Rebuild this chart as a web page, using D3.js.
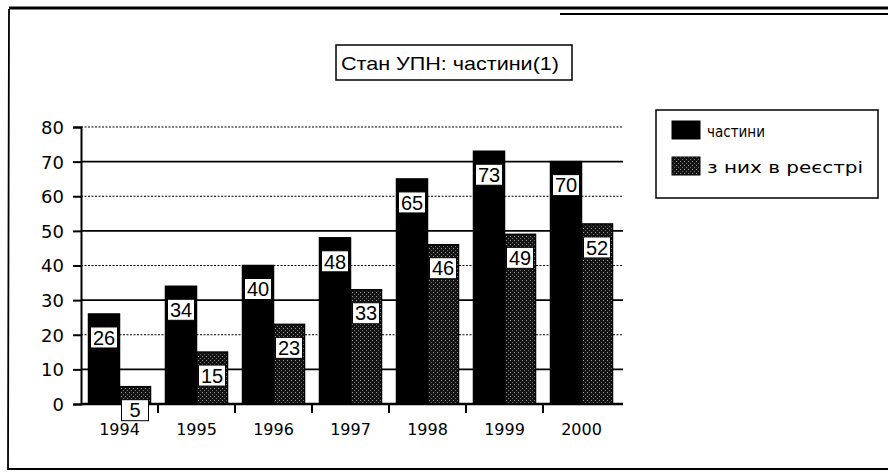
<!DOCTYPE html>
<html>
<head>
<meta charset="utf-8">
<script src="https://cdn.jsdelivr.net/npm/d3@7"></script>
<style>
  html, body { margin: 0; padding: 0; background: #fff; }
  svg { display: block; }
</style>
</head>
<body>
<svg id="chart" width="888" height="475"></svg>
<script>
// Стан УПН: частини — number per year, and how many of them are registered
const years = ["1994", "1995", "1996", "1997", "1998", "1999", "2000"];
const seriesNames = ["частини", "з них в реєстрі"];
const chastyny = [26, 34, 40, 48, 65, 73, 70];
const vReiestri = [5, 15, 23, 33, 46, 49, 52];
const yTicks = [0, 10, 20, 30, 40, 50, 60, 70, 80];
const titleText = "Стан УПН: частини(1)";

const svg = d3.select("#chart");

// speckled dark fill for the second series
const defs = svg.append("defs");
const pat = defs.append("pattern")
  .attr("id", "speckle").attr("patternUnits", "userSpaceOnUse")
  .attr("width", 4).attr("height", 4);
pat.append("rect").attr("width", 4).attr("height", 4).attr("fill", "#141414");
pat.append("rect").attr("x", 0).attr("y", 0).attr("width", 1).attr("height", 1).attr("fill", "#9a9a9a");
pat.append("rect").attr("x", 2).attr("y", 2).attr("width", 1).attr("height", 1).attr("fill", "#6e6e6e");

// frame: left and bottom edges, heavy top rule
const frame = svg.append("g").attr("stroke", "#000").attr("fill", "none");
frame.append("path").attr("d", "M9,9 L8,469 L888,469").attr("stroke-width", 1.8);
frame.append("line").attr("x1", 9).attr("x2", 888).attr("y1", 8).attr("y2", 8).attr("stroke-width", 3);
frame.append("line").attr("x1", 560).attr("x2", 888).attr("y1", 14).attr("y2", 14).attr("stroke-width", 2);

// title box
const tg = svg.append("g");
tg.append("rect").attr("x", 336).attr("y", 45).attr("width", 236).attr("height", 35)
  .attr("fill", "#fff").attr("stroke", "#000").attr("stroke-width", 1.5);
tg.append("text").attr("x", 341).attr("y", 70)
  .attr("font-family", "Liberation Sans, Arial, sans-serif").attr("font-size", 19)
  .attr("textLength", 218).attr("lengthAdjust", "spacingAndGlyphs")
  .text(titleText);

// scales
const plot = { left: 81, right: 620, top: 127, bottom: 404 };
const y = d3.scaleLinear().domain([0, 80]).range([plot.bottom, plot.top]);
const x0 = d3.scaleBand().domain(years).range([plot.left, plot.right]);
const x1 = d3.scaleBand().domain(seriesNames).range([7.5, x0.bandwidth() - 7.5]);

// gridlines: solid at odd tens, dotted at even tens
svg.append("g").selectAll("line").data(yTicks.filter(d => d > 0)).join("line")
  .attr("x1", plot.left).attr("x2", plot.right + 3)
  .attr("y1", d => y(d)).attr("y2", d => y(d))
  .attr("stroke", "#000")
  .attr("stroke-width", d => (d / 10) % 2 ? 1.6 : 1.2)
  .attr("stroke-dasharray", d => (d / 10) % 2 ? null : "2,1.5");

// y axis
const yAxis = svg.append("g").attr("transform", `translate(${plot.left},0)`)
  .call(d3.axisLeft(y).tickValues(yTicks).tickSize(8).tickPadding(9));
yAxis.select(".domain").attr("stroke-width", 2);
yAxis.selectAll(".tick line").attr("stroke-width", 2);
yAxis.selectAll("text").attr("font-family", "DejaVu Sans, sans-serif")
  .attr("font-size", 18).attr("fill", "#000").attr("dy", "0.36em");

// x axis with ticks at group boundaries
const xAxis = svg.append("g").attr("transform", `translate(0,${plot.bottom})`);
xAxis.append("line").attr("x1", plot.left).attr("x2", plot.right + 3)
  .attr("stroke", "#000").attr("stroke-width", 2.5);
xAxis.selectAll("line.tk").data(years.slice(1)).join("line").attr("class", "tk")
  .attr("x1", d => x0(d)).attr("x2", d => x0(d)).attr("y1", 0).attr("y2", 9)
  .attr("stroke", "#000").attr("stroke-width", 2);
xAxis.selectAll("text").data(years).join("text")
  .attr("x", d => x0(d) + x0.bandwidth() / 2).attr("y", 31)
  .attr("text-anchor", "middle")
  .attr("font-family", "DejaVu Sans, sans-serif").attr("font-size", 16)
  .text(d => d);

// bars
const rows = years.map((yr, i) => ({ year: yr, vals: [chastyny[i], vReiestri[i]] }));
const groups = svg.append("g").selectAll("g").data(rows).join("g")
  .attr("transform", d => `translate(${x0(d.year)},0)`);

const bars = groups.selectAll("g.bar")
  .data(d => d.vals.map((v, k) => ({ key: seriesNames[k], k, v })))
  .join("g").attr("class", "bar");

bars.append("rect")
  .attr("x", d => x1(d.key)).attr("width", x1.bandwidth())
  .attr("y", d => y(d.v)).attr("height", d => y(0) - y(d.v))
  .attr("fill", d => d.k === 0 ? "#000" : "url(#speckle)")
  .attr("stroke", "#000").attr("stroke-width", 1.5);

// value labels: white boxes set a little below each bar's top
const bw = 27, bh = 21;
bars.append("rect")
  .attr("x", d => x1(d.key) + (x1.bandwidth() - bw) / 2)
  .attr("y", d => y(d.v) + 13)
  .attr("width", bw).attr("height", bh)
  .attr("fill", "#fff").attr("stroke", "#000").attr("stroke-width", 1);
bars.append("text")
  .attr("x", d => x1(d.key) + x1.bandwidth() / 2)
  .attr("y", d => y(d.v) + 13 + bh / 2)
  .attr("dy", "0.36em").attr("text-anchor", "middle")
  .attr("font-family", "Liberation Sans, Arial, sans-serif").attr("font-size", 20)
  .attr("fill", "#000")
  .text(d => d.v);

// legend
const lg = svg.append("g");
lg.append("rect").attr("x", 656).attr("y", 110).attr("width", 222).attr("height", 88)
  .attr("fill", "#fff").attr("stroke", "#000").attr("stroke-width", 1.5);
const items = lg.selectAll("g").data(seriesNames).join("g")
  .attr("transform", (d, i) => `translate(672,${121 + i * 36})`);
items.append("rect").attr("width", 28).attr("height", 18)
  .attr("fill", (d, i) => i === 0 ? "#000" : "url(#speckle)")
  .attr("stroke", "#000").attr("stroke-width", 1);
items.append("text").attr("x", 35).attr("y", 16)
  .attr("font-family", "DejaVu Sans, sans-serif").attr("font-size", 15)
  .attr("textLength", (d, i) => i === 0 ? 58 : 156).attr("lengthAdjust", "spacingAndGlyphs")
  .text(d => d);
</script>
</body>
</html>
